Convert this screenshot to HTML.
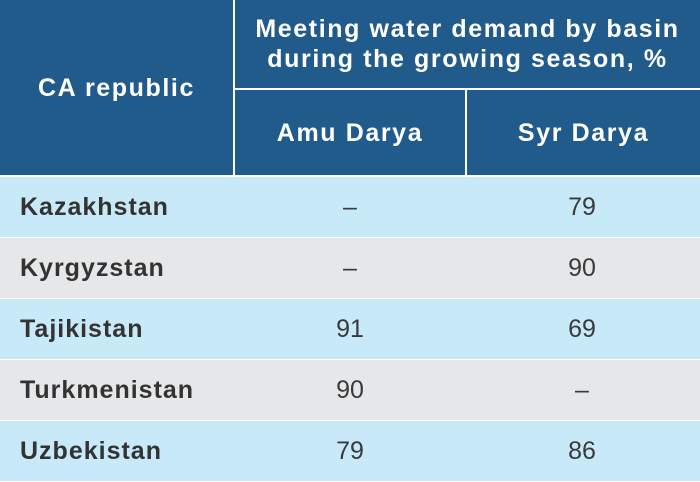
<!DOCTYPE html>
<html><head><style>
body{margin:0;width:700px;height:482px;background:#fff;font-family:"Liberation Sans",sans-serif;position:relative;overflow:hidden}
div{position:absolute;box-sizing:border-box}
.h{background:#215b8c;color:#fff;font-weight:bold;font-size:25px;letter-spacing:1.6px;display:flex;align-items:center;justify-content:center;text-align:center;line-height:30px}
.r{left:0;width:700px;height:60px}
.c{font-size:25px;color:#333;display:flex;align-items:center;height:60px}
.n{font-weight:bold;left:20px;letter-spacing:1px}
.v{justify-content:center;width:232px;color:#3a3a3a}
</style></head><body>
<div class="h" style="left:0;top:0;width:233px;height:175px">CA republic</div>
<div class="h" style="left:235px;top:0;width:465px;height:88px">Meeting water demand by basin<br>during the growing season, %</div>
<div class="h" style="left:235px;top:90px;width:230px;height:85px">Amu Darya</div>
<div class="h" style="left:467px;top:90px;width:233px;height:85px">Syr Darya</div>
<div class="r" style="top:177px;background:#c8e9f8"></div>
<div class="r" style="top:238px;background:#e6e7e8"></div>
<div class="r" style="top:299px;background:#c8e9f8"></div>
<div class="r" style="top:360px;background:#e6e7e8"></div>
<div class="r" style="top:421px;background:#c8e9f8"></div>
<div class="c n" style="top:177px">Kazakhstan</div><div class="c v" style="top:177px;left:234px">–</div><div class="c v" style="top:177px;left:466px">79</div>
<div class="c n" style="top:238px">Kyrgyzstan</div><div class="c v" style="top:238px;left:234px">–</div><div class="c v" style="top:238px;left:466px">90</div>
<div class="c n" style="top:299px">Tajikistan</div><div class="c v" style="top:299px;left:234px">91</div><div class="c v" style="top:299px;left:466px">69</div>
<div class="c n" style="top:360px">Turkmenistan</div><div class="c v" style="top:360px;left:234px">90</div><div class="c v" style="top:360px;left:466px">–</div>
<div class="c n" style="top:421px">Uzbekistan</div><div class="c v" style="top:421px;left:234px">79</div><div class="c v" style="top:421px;left:466px">86</div>
</body></html>
